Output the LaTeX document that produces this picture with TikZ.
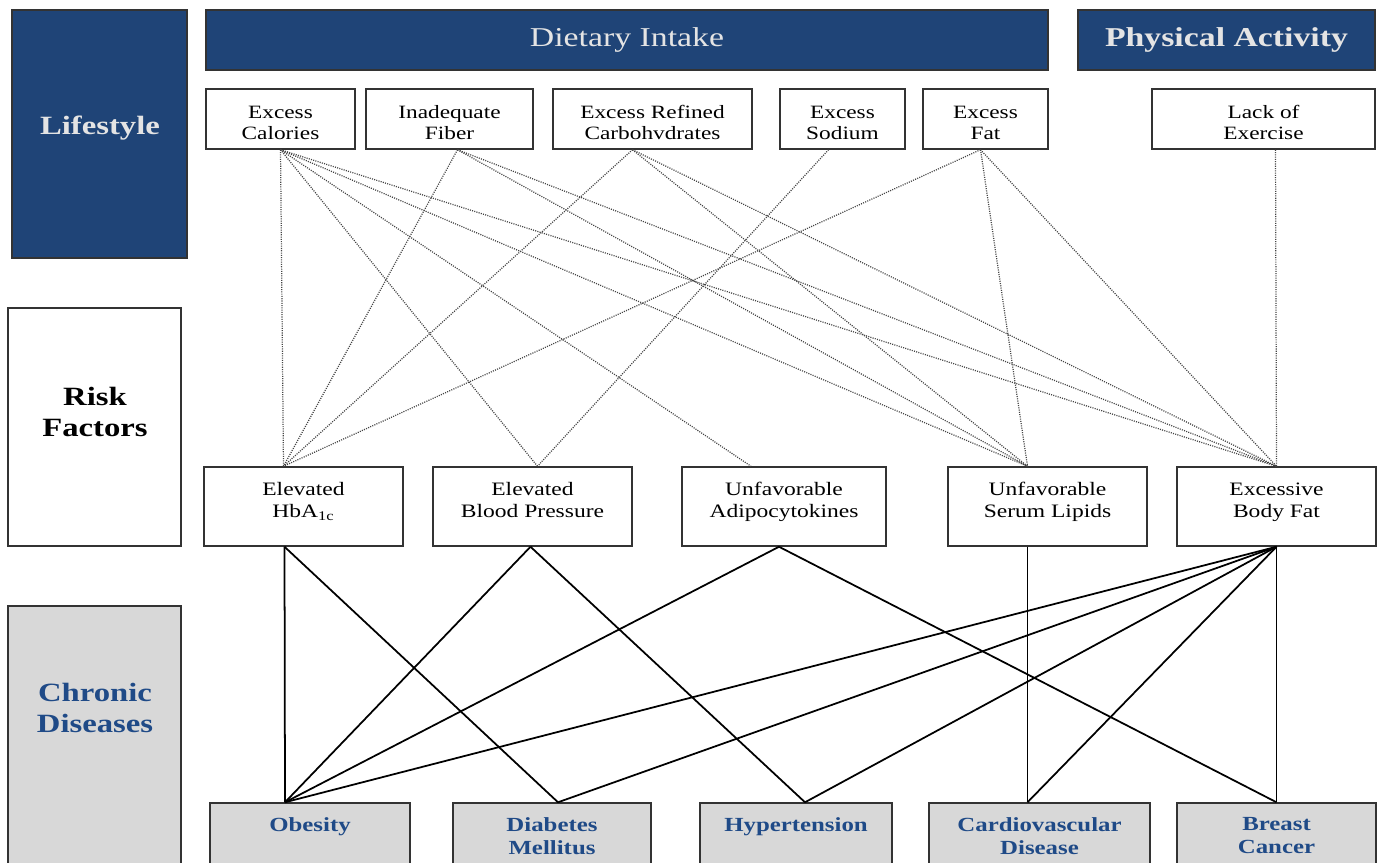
\documentclass[tikz,border=0pt]{standalone}
\usepackage{fontspec}
\setmainfont{Liberation Serif}[FakeStretch=1.24]
\usepackage{tikz}
\usetikzlibrary{calc,positioning}
\definecolor{lsnavy}{HTML}{1F4477}
\definecolor{headtext}{HTML}{E4E4E4}
\definecolor{boxline}{HTML}{333333}
\definecolor{diseasegray}{HTML}{D8D8D8}
\definecolor{diseasetext}{HTML}{1F4A87}
\definecolor{linkgray}{HTML}{444444}
% two lines of text, lifted inside their box
\newcommand{\liftbox}[2]{\raisebox{#1}[\height][\depth]{\begin{tabular}{@{}c@{}}#2\end{tabular}}}
\tikzset{
head box/.style={
  draw=boxline,
  fill=lsnavy,
  line width=0.85pt,
  minimum height=1.2cm,
  inner sep=0pt,
  text=headtext,
  font=\fontsize{15.5}{18}\selectfont
},
diet box/.style={
  draw=boxline,
  fill=white,
  line width=0.85pt,
  minimum height=1.2cm,
  inner sep=0pt,
  align=center,
  font=\fontsize{10.7}{11.4}\selectfont
},
risk box/.style={diet box, minimum height=1.58cm, font=\fontsize{10.8}{12.6}\selectfont},
disease box/.style={
  draw=boxline,
  fill=diseasegray,
  line width=0.85pt,
  minimum height=2.14cm,
  inner sep=0pt
},
disease label/.style={font=\bfseries\fontsize{11.4}{12.8}\selectfont, text=diseasetext, align=center, inner sep=0pt},
side box/.style={draw=boxline, line width=0.85pt, inner sep=0pt, minimum width=3.46cm},
side label/.style={font=\bfseries\fontsize{15}{17.6}\selectfont, align=center, inner sep=0pt},
diet link/.style={draw=linkgray, line width=0.7pt, dash pattern=on 0.6pt off 0.7pt},
risk link/.style={draw=black, line width=1pt}
}
\begin{document}
\begin{tikzpicture}[x=0.02cm,y=-0.02cm]
\useasboundingbox (0,0) rectangle (1382,862);
\clip (0,0) rectangle (1382,862);
% left column
\node[side box, fill=lsnavy, minimum width=3.5cm, minimum height=4.96cm] (life) at (99.5,134) {};
\node[side label, text=headtext] (life-t) at (100,128) {Lifestyle};
\node[side box, fill=white, minimum height=4.76cm] (risk) at (94.5,427) {};
\node[side label] (risk-t) at (95,412) {Risk\\Factors};
\node[side box, fill=diseasegray, minimum height=6.08cm] (chron) at (94.5,758) {};
\node[side label, text=diseasetext] (chron-t) at (95,708) {Chronic\\Diseases};
% lifestyle
\node[head box, minimum width=16.84cm] (diet) at (627,40) {Dietary Intake};
\node[head box, minimum width=5.94cm, font=\bfseries\fontsize{15.5}{18}\selectfont] (phys) at (1226.5,40) {Physical Activity};
\node[diet box, minimum width=2.98cm] (cal) at (280.5,119) {\liftbox{-0.12cm}{Excess\\Calories}};
\node[diet box, minimum width=3.34cm] (fib) at (449.5,119) {\liftbox{-0.12cm}{Inadequate\\Fiber}};
\node[diet box, minimum width=3.98cm] (carb) at (652.5,119) {\liftbox{-0.12cm}{Excess Refined\\Carbohvdrates}};
\node[diet box, minimum width=2.5cm] (sod) at (842.5,119) {\liftbox{-0.12cm}{Excess\\Sodium}};
\node[diet box, minimum width=2.5cm] (fat) at (985.5,119) {\liftbox{-0.12cm}{Excess\\Fat}};
\node[diet box, minimum width=4.46cm] (exer) at (1263.5,119) {\liftbox{-0.12cm}{Lack of\\Exercise}};
% risk factors
\node[risk box, minimum width=3.98cm] (hba) at (303.5,506.5) {\liftbox{0.09cm}{Elevated\\HbA\textsubscript{1c}}};
\node[risk box, minimum width=3.98cm] (bp) at (532.5,506.5) {\liftbox{0.09cm}{Elevated\\Blood Pressure}};
\node[risk box, minimum width=4.08cm] (adi) at (784,506.5) {\liftbox{0.09cm}{Unfavorable\\Adipocytokines}};
\node[risk box, minimum width=3.98cm] (lip) at (1047.5,506.5) {\liftbox{0.09cm}{Unfavorable\\Serum Lipids}};
\node[risk box, minimum width=3.98cm] (bf) at (1276.5,506.5) {\liftbox{0.09cm}{Excessive\\Body Fat}};
% chronic diseases
\node[disease box, minimum width=4.0cm] (obe) at (310,856.5) {};
\node[disease box, minimum width=3.96cm] (dia) at (552,856.5) {};
\node[disease box, minimum width=3.84cm] (hyp) at (796,856.5) {};
\node[disease box, minimum width=4.42cm] (cvd) at (1039.5,856.5) {};
\node[disease box, minimum width=3.98cm] (bc) at (1276.5,856.5) {};
\node[disease label, below=0.3cm of obe.north] (obe-t) {Obesity};
\node[disease label, below=0.3cm of dia.north] (dia-t) {Diabetes\\Mellitus};
\node[disease label, below=0.3cm of hyp.north] (hyp-t) {Hypertension};
\node[disease label, below=0.3cm of cvd.north] (cvd-t) {Cardiovascular\\Disease};
\node[disease label, below=0.3cm of bc.north] (bc-t) {Breast\\Cancer};
% line ends
\coordinate (cal-s) at (cal.south);
\coordinate (fib-s) at ($(fib.south)+(8,0)$);
\coordinate (carb-s) at ($(carb.south)+(-20,0)$);
\coordinate (sod-s) at ($(sod.south)+(-14,0)$);
\coordinate (fat-s) at ($(fat.south)+(-5,0)$);
\coordinate (exer-s) at ($(exer.south)+(12,0)$);
\coordinate (hba-n) at ($(hba.north)+(-20,0)$);
\coordinate (bp-n) at ($(bp.north)+(5,0)$);
\coordinate (adi-n) at ($(adi.north)+(-33,0)$);
\coordinate (lip-n) at ($(lip.north)+(-20,0)$);
\coordinate (bf-n) at (bf.north);
\coordinate (hba-s) at ($(hba.south)+(-19,0)$);
\coordinate (bp-s) at ($(bp.south)+(-2,0)$);
\coordinate (adi-s) at ($(adi.south)+(-5,0)$);
\coordinate (lip-s) at ($(lip.south)+(-20,0)$);
\coordinate (bf-s) at (bf.south);
\coordinate (obe-n) at ($(obe.north)+(-25,0)$);
\coordinate (dia-n) at ($(dia.north)+(6,0)$);
\coordinate (hyp-n) at ($(hyp.north)+(9,0)$);
\coordinate (cvd-n) at ($(cvd.north)+(-12,0)$);
\coordinate (bc-n) at (bc.north);
% lifestyle -> risk factors
\foreach \a/\b in {cal-s/hba-n,cal-s/bp-n,cal-s/adi-n,cal-s/lip-n,cal-s/bf-n,
  fib-s/hba-n,fib-s/lip-n,fib-s/bf-n,carb-s/hba-n,carb-s/lip-n,carb-s/bf-n,
  sod-s/bp-n,fat-s/hba-n,fat-s/lip-n,fat-s/bf-n,exer-s/bf-n}
  \draw[diet link] (\a) -- (\b);
% risk factors -> diseases
\foreach \a/\b in {hba-s/obe-n,hba-s/dia-n,bp-s/obe-n,bp-s/hyp-n,adi-s/obe-n,adi-s/bc-n,
  lip-s/cvd-n,bf-s/obe-n,bf-s/dia-n,bf-s/hyp-n,bf-s/cvd-n,bf-s/bc-n}
  \draw[risk link] (\a) -- (\b);
\end{tikzpicture}
\end{document}
